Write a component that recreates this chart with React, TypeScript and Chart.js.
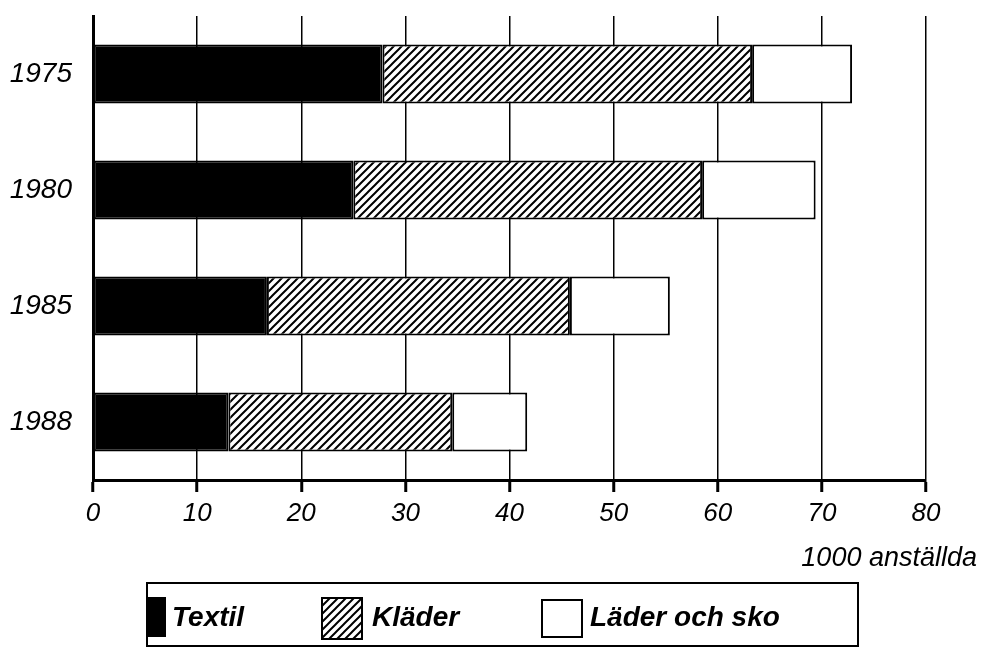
import React, { useEffect, useRef } from "react";
import { Chart, registerables } from "chart.js";

Chart.register(...registerables);

const categories = ["1975", "1980", "1985", "1988"];
const textil = [27.8, 25.0, 16.7, 13.0];
const klader = [35.5, 33.5, 29.1, 21.5];
const lader = [9.6, 10.9, 9.6, 7.2];
const seriesNames = ["Textil", "Kläder", "Läder och sko"];
const xMin = 0;
const xMax = 80;
const xStep = 10;
const unitLabel = "1000 anställda";

const FONT = '"Liberation Sans", Arial, Helvetica, sans-serif';

function makeHatch(): CanvasPattern | string {
  const s = 8;
  const c = document.createElement("canvas");
  c.width = s;
  c.height = s;
  const g = c.getContext("2d");
  if (!g) return "#888";
  g.fillStyle = "#fff";
  g.fillRect(0, 0, s, s);
  g.strokeStyle = "#000";
  g.lineWidth = 2;
  g.beginPath();
  g.moveTo(-1, s + 1);
  g.lineTo(s + 1, -1);
  g.moveTo(-2, 2);
  g.lineTo(2, -2);
  g.moveTo(s - 2, s + 2);
  g.lineTo(s + 2, s - 2);
  g.stroke();
  const p = g.createPattern(c, "repeat");
  return p || "#888";
}

export default function App() {
  const ref = useRef<HTMLCanvasElement | null>(null);

  useEffect(() => {
    if (!ref.current) return;
    const hatch = makeHatch();

    const legendPlugin = {
      id: "customLegend",
      afterDraw(chart: any) {
        const ctx = chart.ctx as CanvasRenderingContext2D;
        ctx.save();
        ctx.fillStyle = "#000";
        ctx.font = `italic 27px ${FONT}`;
        ctx.textAlign = "right";
        ctx.textBaseline = "middle";
        ctx.fillText(unitLabel, 977, 558);

        ctx.strokeStyle = "#000";
        ctx.lineWidth = 2;
        ctx.strokeRect(147, 583, 711, 63);

        ctx.fillStyle = "#000";
        ctx.fillRect(147, 597, 19, 40);
        ctx.fillStyle = hatch as any;
        ctx.fillRect(322, 598, 40, 41);
        ctx.strokeRect(322, 598, 40, 41);
        ctx.fillStyle = "#fff";
        ctx.fillRect(542, 600, 40, 37);
        ctx.strokeRect(542, 600, 40, 37);

        ctx.fillStyle = "#000";
        ctx.font = `italic bold 28px ${FONT}`;
        ctx.textAlign = "left";
        ctx.textBaseline = "middle";
        ctx.fillText(seriesNames[0], 172, 618);
        ctx.fillText(seriesNames[1], 372, 618);
        ctx.fillText(seriesNames[2], 590, 618);
        ctx.restore();
      },
    };

    const chart = new Chart(ref.current, {
      type: "bar",
      data: {
        labels: categories,
        datasets: [
          {
            label: seriesNames[0],
            data: textil,
            backgroundColor: "#000",
            borderColor: "#000",
            borderWidth: 2,
            borderSkipped: false,
          },
          {
            label: seriesNames[1],
            data: klader,
            backgroundColor: hatch as any,
            borderColor: "#000",
            borderWidth: 2,
            borderSkipped: false,
          },
          {
            label: seriesNames[2],
            data: lader,
            backgroundColor: "#fff",
            borderColor: "#000",
            borderWidth: 2,
            borderSkipped: false,
          },
        ],
      },
      options: {
        indexAxis: "y",
        responsive: false,
        animation: false,
        barPercentage: 0.51,
        categoryPercentage: 1,
        layout: { padding: { top: 16, right: 57, left: 0, bottom: 0 } },
        plugins: {
          legend: { display: false },
          tooltip: { enabled: false },
          title: { display: false },
        },
        scales: {
          x: {
            stacked: true,
            min: xMin,
            max: xMax,
            ticks: {
              stepSize: xStep,
              color: "#000",
              font: { family: FONT, size: 26, style: "italic" },
              padding: 6,
            },
            grid: {
              color: "#000",
              lineWidth: 1.5,
              drawTicks: true,
              tickLength: 12,
              tickWidth: 3,
              tickColor: "#000",
            },
            border: { display: true, color: "#000", width: 3 },
            afterFit(scale: any) {
              scale.height = 170;
            },
          },
          y: {
            stacked: true,
            ticks: {
              color: "#000",
              font: { family: FONT, size: 28, style: "italic" },
              padding: 21,
            },
            grid: { display: false, drawTicks: false },
            border: { display: true, color: "#000", width: 3 },
            afterFit(scale: any) {
              scale.width = 93;
              scale.paddingTop = 0;
              scale.paddingBottom = 0;
            },
          },
        },
      },
      plugins: [legendPlugin],
    });

    return () => chart.destroy();
  }, []);

  return (
    <div style={{ position: "fixed", left: 0, top: 0, width: 983, height: 650, background: "#fff" }}>
      <canvas ref={ref} width={983} height={650} style={{ display: "block" }} />
    </div>
  );
}
